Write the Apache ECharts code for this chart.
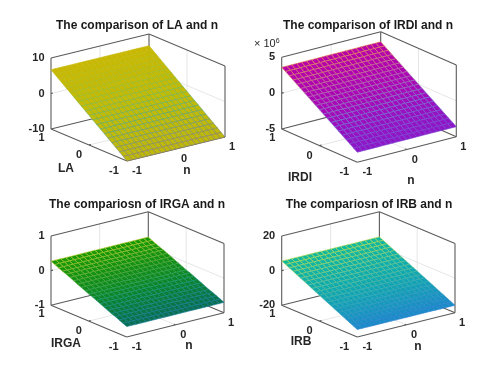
<!DOCTYPE html>
<html>
<head>
<meta charset="utf-8">
<style>
  html, body { margin: 0; padding: 0; background: #fff; }
  #chart { width: 480px; height: 369px; filter: blur(0.6px); }
</style>
<script src="https://cdn.jsdelivr.net/npm/echarts@6/dist/echarts.min.js"></script>
</head>
<body>
<div id="chart"></div>
<script>
// grid of the surfaces, shared by all four plots
const nValues = [-1, -0.9, -0.8, -0.7, -0.6, -0.5, -0.4, -0.3, -0.2, -0.1, 0, 0.1, 0.2, 0.3, 0.4, 0.5, 0.6, 0.7, 0.8, 0.9, 1]
const yValues = [-1, -0.9, -0.8, -0.7, -0.6, -0.5, -0.4, -0.3, -0.2, -0.1, 0, 0.1, 0.2, 0.3, 0.4, 0.5, 0.6, 0.7, 0.8, 0.9, 1]

// surface height along the y axis
const laValues = [-10, -9.17, -8.33, -7.5, -6.66, -5.83, -4.99, -4.16, -3.32, -2.49, -1.65, -0.82, 0.02, 0.86, 1.69, 2.53, 3.36, 4.2, 5.03, 5.87, 6.7]
const irdiValues = [-3.6, -3.24, -2.88, -2.52, -2.16, -1.8, -1.44, -1.08, -0.72, -0.36, 0, 0.36, 0.72, 1.08, 1.44, 1.8, 2.16, 2.52, 2.88, 3.24, 3.6]
const irgaValues = [-0.7, -0.65, -0.6, -0.55, -0.51, -0.46, -0.41, -0.36, -0.31, -0.26, -0.22, -0.17, -0.12, -0.07, -0.02, 0.03, 0.08, 0.12, 0.17, 0.22, 0.27]
const irbValues = [-15.7, -14.64, -13.58, -12.52, -11.46, -10.4, -9.34, -8.28, -7.22, -6.16, -5.1, -4.04, -2.98, -1.92, -0.86, 0.2, 1.26, 2.32, 3.38, 4.44, 5.5]

const horizontalTicks = [-1, 0, 1]
const laTicks = [-10, 0, 10]
const irdiTicks = [-5, 0, 5]
const irgaTicks = [-1, 0, 1]
const irbTicks = [-20, 0, 20]

const panels = [
  {
    title: 'The comparison of LA and n', titlePos: [137, 20], yName: 'LA', z: laValues, zTicks: laTicks,
    front: [127, 161], nVec: [98, -24], yVec: [-76, -32], zLen: 71,
    yNamePos: [66, 169], nNamePos: [187, 171],
    faces: ['#bdb80a', '#c2bb06', '#c8b804'],
    edges: ['#8a8070', '#5aa878', '#93bb30', '#c6bb08'],
  },
  {
    title: 'The comparison of IRDI and n', titlePos: [368, 20], yName: 'IRDI', z: irdiValues, zTicks: irdiTicks,
    front: [357.3, 162.3], nVec: [99, -25.6], yVec: [-75.6, -33.3], zLen: 71.7,
    yNamePos: [300, 178], nNamePos: [411, 181], exponent: true,
    faces: ['#8c18c8', '#a808b8', '#b800a8'],
    edges: ['#7a40d0', '#6e78d0', '#b070a8', '#e89050'],
  },
  {
    title: 'The compariosn of IRGA and n', titlePos: [137, 199], yName: 'IRGA', z: irgaValues, zTicks: irgaTicks,
    front: [126.7, 339.7], nVec: [97.3, -24.7], yVec: [-75.7, -32.4], zLen: 70.6,
    yNamePos: [66, 347], nNamePos: [189, 349],
    faces: ['#0a7050', '#0e8a20', '#189808'],
    edges: ['#107898', '#10957a', '#50a838', '#b8cc28'],
  },
  {
    title: 'The compariosn of IRB and n', titlePos: [369, 199], yName: 'IRB', z: irbValues, zTicks: irbTicks,
    front: [357.3, 339.7], nVec: [97.7, -24.7], yVec: [-75.6, -32.4], zLen: 70.6,
    yNamePos: [301, 345], nNamePos: [418, 350],
    faces: ['#1c8cc8', '#10a8b0', '#10b8a0'],
    edges: ['#2880d0', '#30a8b0', '#68c490', '#c0dc48'],
  },
]

const textColor = '#262626'
const labelFont = 'bold 11px "Liberation Sans", Arial, sans-serif'
const nameFont = 'bold 12px "Liberation Sans", Arial, sans-serif'

let myChart = echarts.init(document.getElementById('chart'), null, { renderer: 'canvas' })

// each plot gets its own grid, its axes count in pixels of that grid
const gridLeft = (p) => Math.round(p.front[0] + p.yVec[0]) - 40
const gridTop = (p) => Math.round(p.front[1] + p.nVec[1] + p.yVec[1]) - p.zLen - 10
const gridWidth = 210
const gridHeight = 170

const ramp = (stops, t) => echarts.color.lerp(Math.min(Math.max(t, 0), 1), stops)

const project = (p, n, y, z) => {
  const zTicks = p.zTicks
  const zMin = zTicks[0]
  const zMax = zTicks[zTicks.length - 1]
  const f = (z - zMin) / (zMax - zMin)
  return [
    p.front[0] - gridLeft(p) + ((n + 1) / 2) * p.nVec[0] + ((y + 1) / 2) * p.yVec[0],
    p.front[1] - gridTop(p) + ((n + 1) / 2) * p.nVec[1] + ((y + 1) / 2) * p.yVec[1] - f * p.zLen,
  ]
}

const boxSegments = (p) => {
  const lo = p.zTicks[0]
  const mid = p.zTicks[1]
  const hi = p.zTicks[2]
  return [
    // light grid on the floor and the two back walls
    [0, -1, lo, 0, 1, lo, 0],
    [-1, 0, lo, 1, 0, lo, 0],
    [0, 1, lo, 0, 1, hi, 0],
    [-1, 1, mid, 1, 1, mid, 0],
    [1, 0, lo, 1, 0, hi, 0],
    [1, -1, mid, 1, 1, mid, 0],
    // box
    [-1, 1, lo, 1, 1, lo, 1],
    [1, 1, lo, 1, -1, lo, 1],
    [-1, 1, lo, -1, 1, hi, 1],
    [1, 1, lo, 1, 1, hi, 1],
    [1, -1, lo, 1, -1, hi, 1],
    [-1, 1, hi, 1, 1, hi, 1],
    [1, 1, hi, 1, -1, hi, 1],
    [-1, 1, lo, -1, -1, lo, 1],
    [-1, -1, lo, 1, -1, lo, 1],
    // ticks
    [0, -1, lo, 0, -0.96, lo, 1],
    [-1, 0, lo, -0.96, 0, lo, 1],
    [-1, 1, mid, -0.96, 1, mid, 1],
  ]
}

const boxSeries = (p, index) => ({
  type: 'custom',
  xAxisIndex: index,
  yAxisIndex: index,
  silent: true,
  z: 1,
  data: boxSegments(p),
  renderItem: (params, api) => {
    const a = api.coord(project(p, api.value(0), api.value(1), api.value(2)))
    const b = api.coord(project(p, api.value(3), api.value(4), api.value(5)))
    const isBox = api.value(6) === 1
    return {
      type: 'line',
      shape: { x1: a[0], y1: a[1], x2: b[0], y2: b[1] },
      style: { stroke: isBox ? '#5a5a5a' : '#e0e0e0', lineWidth: isBox ? 1.1 : 0.8 },
    }
  },
})

const surfaceSeries = (p, index) => {
  const cells = []
  for (let j = yValues.length - 2; j >= 0; j--) {
    for (let i = nValues.length - 2; i >= 0; i--) cells.push([i, j])
  }
  const zs = p.z
  return {
    type: 'custom',
    xAxisIndex: index,
    yAxisIndex: index,
    silent: true,
    z: 2,
    data: cells,
    renderItem: (params, api) => {
      const i = api.value(0)
      const j = api.value(1)
      const corners = [
        [nValues[i], yValues[j], zs[j]],
        [nValues[i + 1], yValues[j], zs[j]],
        [nValues[i + 1], yValues[j + 1], zs[j + 1]],
        [nValues[i], yValues[j + 1], zs[j + 1]],
      ].map((c) => api.coord(project(p, c[0], c[1], c[2])))
      const t = j / (yValues.length - 2)
      return {
        type: 'polygon',
        shape: { points: corners },
        style: { fill: ramp(p.faces, t), stroke: ramp(p.edges, t), lineWidth: 0.6 },
      }
    },
  }
}

const labelSeries = (p, index) => {
  const lo = p.zTicks[0]
  const items = []
  const left = gridLeft(p)
  const top = gridTop(p)
  horizontalTicks.forEach((v, k) => {
    const dx = [10, 8, 7][k]
    const a = project(p, v, -1, lo)
    items.push([a[0] + dx, a[1] + 10, String(v), 'center', labelFont])
    const offs = [[-13, 10], [-10, 10], [-9.5, 9]][k]
    const b = project(p, -1, v, lo)
    items.push([b[0] + offs[0], b[1] + offs[1], String(v), 'center', labelFont])
  })
  p.zTicks.forEach((v) => {
    const a = project(p, -1, 1, v)
    items.push([a[0] - 6.5, a[1], String(v), 'right', labelFont])
  })
  items.push([p.yNamePos[0] - left, p.yNamePos[1] - top, p.yName, 'center', nameFont])
  items.push([p.nNamePos[0] - left, p.nNamePos[1] - top, 'n', 'center', nameFont])
  return {
    type: 'custom',
    xAxisIndex: index,
    yAxisIndex: index,
    silent: true,
    z: 3,
    clip: false,
    data: items,
    dimensions: ['x', 'y', 'text', 'align', 'font'],
    encode: { x: 0, y: 1 },
    renderItem: (params, api) => {
      const item = items[params.dataIndex]
      const c = api.coord([item[0], item[1]])
      return {
        type: 'text',
        x: c[0],
        y: c[1],
        style: { text: item[2], align: item[3], verticalAlign: 'middle', font: item[4], fill: textColor },
      }
    },
  }
}

let option = {
  backgroundColor: '#fff',
  animation: false,
  title: panels.map((p) => ({
    text: p.title,
    left: p.titlePos[0],
    top: p.titlePos[1],
    textAlign: 'center',
    padding: 0,
    textStyle: { fontFamily: '"Liberation Sans", Arial, sans-serif', fontWeight: 'bold', fontSize: 12, color: '#1a1a1a' },
  })),
  grid: panels.map((p) => ({ left: gridLeft(p), top: gridTop(p), width: gridWidth, height: gridHeight })),
  xAxis: panels.map((p, i) => ({ type: 'value', gridIndex: i, min: 0, max: gridWidth, show: false })),
  yAxis: panels.map((p, i) => ({ type: 'value', gridIndex: i, min: 0, max: gridHeight, inverse: true, show: false })),
  series: panels.flatMap((p, i) => [boxSeries(p, i), surfaceSeries(p, i), labelSeries(p, i)]),
  graphic: [
    {
      type: 'text',
      left: 254,
      top: 38,
      style: {
        text: '× 10{sup|6}',
        font: '11px "Liberation Sans", Arial, sans-serif',
        fill: textColor,
        rich: { sup: { fontSize: 7, verticalAlign: 'top', padding: [0, 0, 5, 0], fill: textColor } },
      },
    },
  ],
}

myChart.setOption(option)
</script>
</body>
</html>
